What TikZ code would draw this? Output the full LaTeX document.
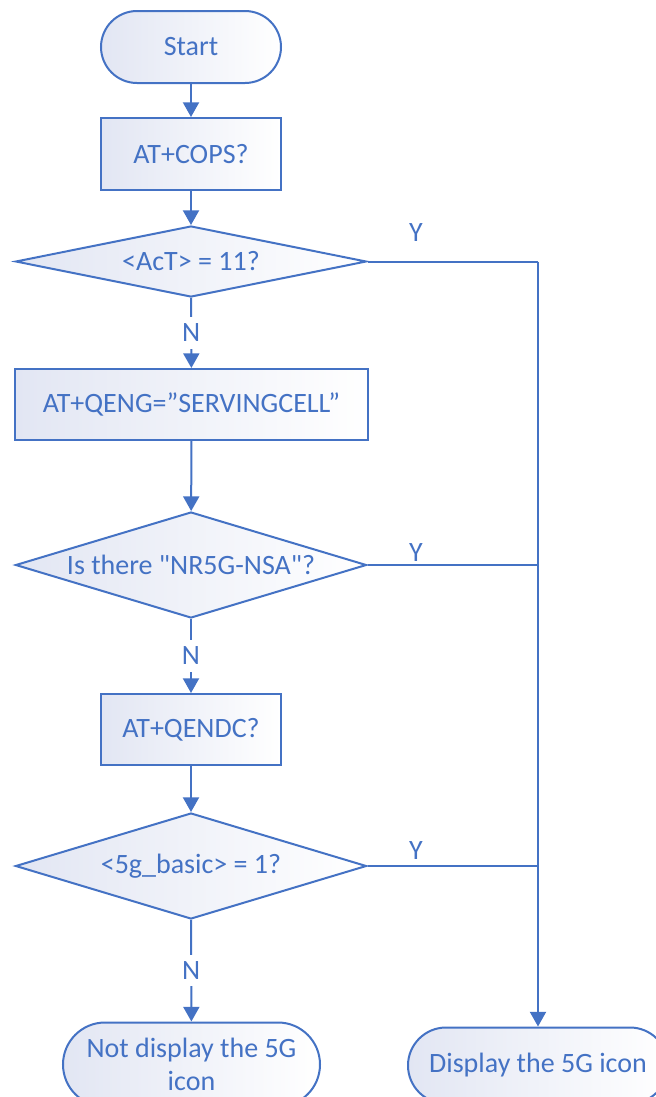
\documentclass[tikz,border=0pt]{standalone}
\usepackage{fontspec}
\setmainfont{Carlito}[Ligatures=TeXOff]
\usetikzlibrary{shapes.geometric,arrows.meta}
\definecolor{bl}{HTML}{4472C4}
\definecolor{fl}{HTML}{E2E6F3}
\tikzset{
  base/.style={draw=bl, line width=1.5pt, text=bl, inner sep=0pt,
    left color=fl, right color=white, font=\fontsize{21}{25}\selectfont, align=center},
  term/.style={base, rectangle, rounded corners=#1},
  proc/.style={base, rectangle},
  dec/.style={base, diamond, aspect=3},
  conn/.style={draw=bl, line width=1.5pt, -{Triangle[width=12pt,length=11pt]}},
  plain/.style={draw=bl, line width=1.5pt},
  lbl/.style={text=bl, font=\fontsize{21}{25}\selectfont, inner sep=0pt},
  nlbl/.style={lbl, fill=white, inner sep=5pt}
}
\begin{document}
\begin{tikzpicture}[x=0.75pt,y=-0.75pt]
\useasboundingbox (0,0) rectangle (656,1097);
\node[term=27pt, minimum width=135pt, minimum height=54pt] (start) at (191,47) {Start};
\node[proc, minimum width=135pt, minimum height=54pt] (cops) at (191,154) {AT+COPS?};
\node[dec, minimum width=263.25pt, minimum height=53.25pt] (d1) at (191,261.5) {<AcT> = 11?};
\node[proc, minimum width=264.75pt, minimum height=53.25pt] (qeng) at (191.5,404.5) {AT+QENG=”SERVINGCELL”};
\node[dec, minimum width=263.25pt, minimum height=79.5pt] (d2) at (191,565) {Is there "NR5G-NSA"?};
\node[proc, minimum width=135pt, minimum height=53.25pt] (qendc) at (191,729.5) {AT+QENDC?};
\node[dec, minimum width=263.25pt, minimum height=79.5pt] (d3) at (191,866) {<5g\_basic> = 1?};
\node[term=31.5pt, minimum width=192.75pt, minimum height=63pt] (nodisp) at (191.5,1064.5) {Not display the 5G\\icon};
\node[term=28.5pt, minimum width=195pt, minimum height=57pt] (disp) at (538,1065.5) {Display the 5G icon};

\coordinate (j1) at (538,261.5);
\coordinate (j2) at (538,565);
\coordinate (j3) at (538,866);

\draw[conn] (start) -- (cops);
\draw[conn] (cops) -- (d1);
\draw[conn] (d1) -- node[nlbl] {N} (qeng);
\draw[conn] (qeng) -- (d2);
\draw[conn] (d2) -- node[nlbl] {N} (qendc);
\draw[conn] (qendc) -- (d3);
\draw[conn] (d3) -- node[nlbl] {N} (nodisp);

\draw[plain] (d1.east) -- (j1);
\draw[conn] (j1) -- (disp.north);
\draw[plain] (d2.east) -- (j2);
\draw[plain] (d3.east) -- (j3);

\node[lbl] (y1) at (416,233) {Y};
\node[lbl] (y2) at (416,553) {Y};
\node[lbl] (y3) at (416,851) {Y};
\end{tikzpicture}
\end{document}
